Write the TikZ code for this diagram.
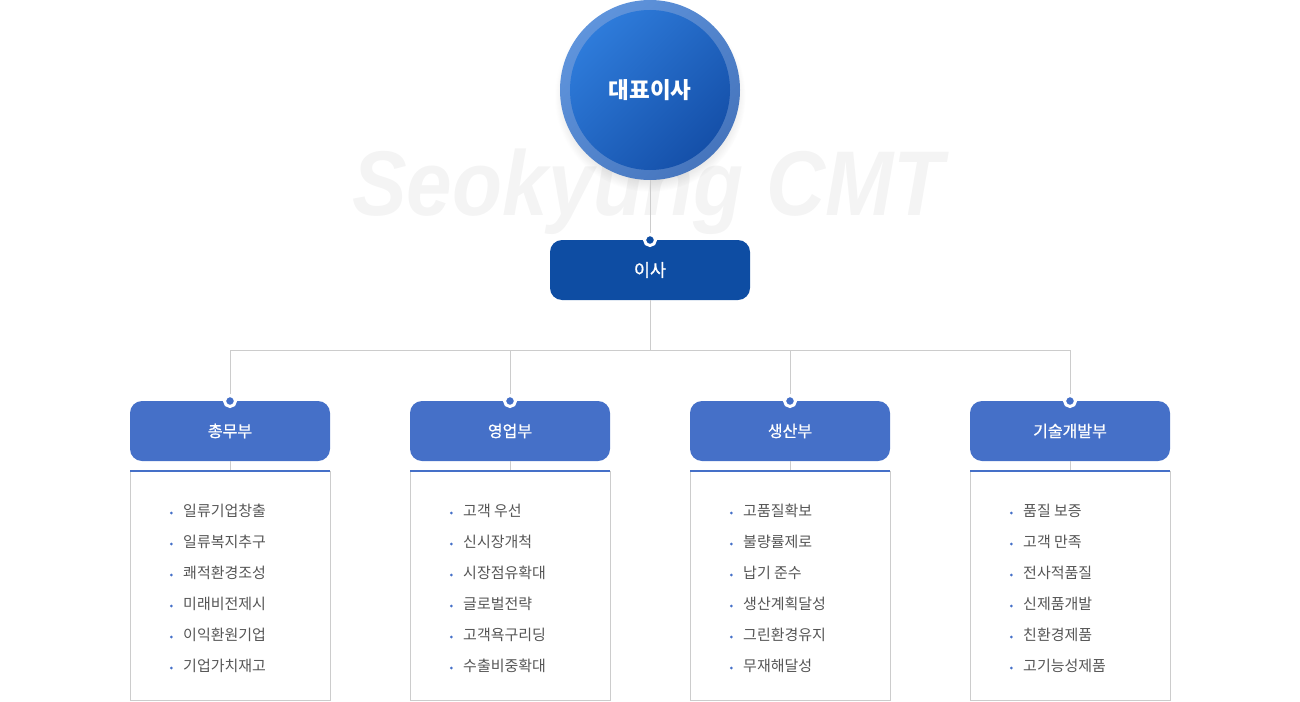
\documentclass[tikz,border=0pt]{standalone}
\usepackage{fontspec}
\setmainfont{Noto Sans CJK KR}
\newfontfamily\medfont[FakeBold=1]{Noto Sans CJK KR}
\newfontfamily\markfont{Liberation Sans}
\usepackage{tikz}
\usetikzlibrary{positioning, shadows}

\definecolor{ringlight}{HTML}{5F94DC}
\definecolor{ringdark}{HTML}{4675BD}
\definecolor{corelight}{HTML}{2E7BDA}
\definecolor{coredark}{HTML}{1550A9}
\definecolor{mgrblue}{HTML}{0E4DA3}
\definecolor{deptblue}{HTML}{4570C8}
\definecolor{linegray}{HTML}{CCCCCC}
\definecolor{itemgray}{HTML}{555555}
\definecolor{markgray}{HTML}{F4F4F4}

\begin{document}
\begin{tikzpicture}[
        x=1pt, y=-1pt,
        node distance=80pt,
        line/.style={draw=linegray, line width=1pt},
        ceo/.style={circle, inner sep=0pt, minimum size=180pt, top color=ringlight, bottom color=ringdark, shading angle=45,
            circular drop shadow={shadow xshift=0pt, shadow yshift=-6pt, shadow scale=1.06, opacity=0.22}},
        ceocore/.style={circle, inner sep=0pt, minimum size=160pt, top color=corelight, bottom color=coredark, shading angle=45,
            text=white, font=\bfseries\fontsize{22.5}{26}\selectfont},
        manager/.style={rectangle, rounded corners=12pt, fill=mgrblue, outer sep=0pt, minimum width=200pt, minimum height=60pt,
            text=white, font=\medfont\fontsize{17.5}{20}\selectfont},
        dept/.style={manager, fill=deptblue, font=\medfont\fontsize{16}{19}\selectfont},
        panel/.style={rectangle, draw=linegray, outer sep=0pt, minimum width=200pt, minimum height=229pt, inner sep=0pt},
        dot/.style={circle, draw=white, line width=3pt, minimum size=11pt, inner sep=0pt},
        bullet/.style={circle, fill=deptblue, inner sep=0pt, minimum size=3pt, label distance=10pt},
        item/.style={anchor=west, inner sep=0pt, text height=9pt, text depth=3pt, text=itemgray,
            font=\fontsize{15}{18}\selectfont, label={[bullet]left:{}}}
    ]
    \useasboundingbox (0,0) rectangle (1300,701);

    % Watermark
    \node[anchor=base, text=markgray, font=\markfont\bfseries\itshape\fontsize{92}{92}\selectfont] (mark) at (648,215)
        {\scalebox{0.89}[1]{Seokyung CMT}};

    % CEO
    \node[ceo] (ceo) at (650,90) {};
    \node[ceocore] (ceocore) at (ceo.center) {대표이사};

    % Director
    \node[manager] (mgr) at (650,270) {이사};

    % Departments
    \node[dept] (deptA) at (230,431) {총무부};
    \node[dept, right=of deptA] (deptB) {영업부};
    \node[dept, right=of deptB] (deptC) {생산부};
    \node[dept, right=of deptC] (deptD) {기술개발부};

    % Panels
    \node[panel, below=10pt of deptA] (panelA) {};
    \node[panel, below=10pt of deptB] (panelB) {};
    \node[panel, below=10pt of deptC] (panelC) {};
    \node[panel, below=10pt of deptD] (panelD) {};

    % Lines
    \coordinate[below=50pt of mgr.south] (bus);
    \draw[line] (ceo) -- (mgr);
    \draw[line] (mgr) -- (bus);
    \draw[line] (bus) -| (deptA);
    \draw[line] (bus) -| (deptB);
    \draw[line] (bus) -| (deptC);
    \draw[line] (bus) -| (deptD);
    \draw[line] (deptA) -- (panelA);
    \draw[line] (deptB) -- (panelB);
    \draw[line] (deptC) -- (panelC);
    \draw[line] (deptD) -- (panelD);

    \draw[deptblue, line width=2pt] (panelA.north west) -- (panelA.north east);
    \draw[deptblue, line width=2pt] (panelB.north west) -- (panelB.north east);
    \draw[deptblue, line width=2pt] (panelC.north west) -- (panelC.north east);
    \draw[deptblue, line width=2pt] (panelD.north west) -- (panelD.north east);

    % Dots
    \node[dot, fill=mgrblue] (mgrdot) at (mgr.north) {};
    \node[dot, fill=deptblue] (dotA) at (deptA.north) {};
    \node[dot, fill=deptblue] (dotB) at (deptB.north) {};
    \node[dot, fill=deptblue] (dotC) at (deptC.north) {};
    \node[dot, fill=deptblue] (dotD) at (deptD.north) {};

    % General affairs
    \node[item] (a1) at ([xshift=53pt, yshift=-42pt]panelA.north west) {일류기업창출};
    \node[below=31pt of a1.west, item] (a2) {일류복지추구};
    \node[below=31pt of a2.west, item] (a3) {쾌적환경조성};
    \node[below=31pt of a3.west, item] (a4) {미래비전제시};
    \node[below=31pt of a4.west, item] (a5) {이익환원기업};
    \node[below=31pt of a5.west, item] (a6) {기업가치재고};

    % Sales
    \node[item] (b1) at ([xshift=53pt, yshift=-42pt]panelB.north west) {고객 우선};
    \node[below=31pt of b1.west, item] (b2) {신시장개척};
    \node[below=31pt of b2.west, item] (b3) {시장점유확대};
    \node[below=31pt of b3.west, item] (b4) {글로벌전략};
    \node[below=31pt of b4.west, item] (b5) {고객욕구리딩};
    \node[below=31pt of b5.west, item] (b6) {수출비중확대};

    % Production
    \node[item] (c1) at ([xshift=53pt, yshift=-42pt]panelC.north west) {고품질확보};
    \node[below=31pt of c1.west, item] (c2) {불량률제로};
    \node[below=31pt of c2.west, item] (c3) {납기 준수};
    \node[below=31pt of c3.west, item] (c4) {생산계획달성};
    \node[below=31pt of c4.west, item] (c5) {그린환경유지};
    \node[below=31pt of c5.west, item] (c6) {무재해달성};

    % R&D
    \node[item] (d1) at ([xshift=53pt, yshift=-42pt]panelD.north west) {품질 보증};
    \node[below=31pt of d1.west, item] (d2) {고객 만족};
    \node[below=31pt of d2.west, item] (d3) {전사적품질};
    \node[below=31pt of d3.west, item] (d4) {신제품개발};
    \node[below=31pt of d4.west, item] (d5) {친환경제품};
    \node[below=31pt of d5.west, item] (d6) {고기능성제품};

\end{tikzpicture}
\end{document}
